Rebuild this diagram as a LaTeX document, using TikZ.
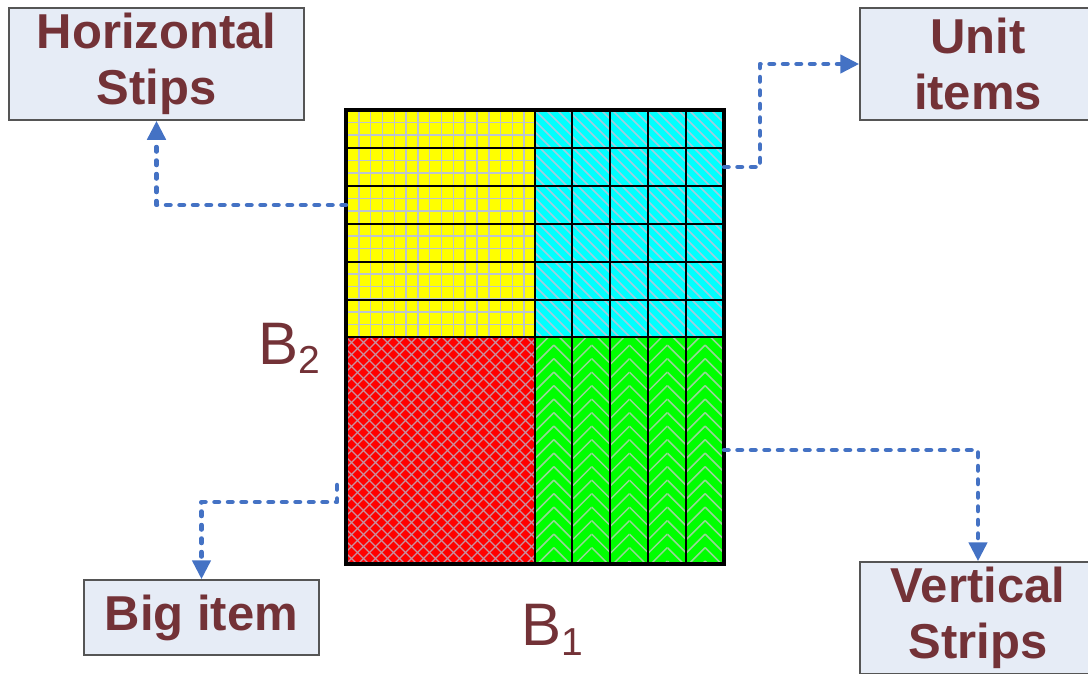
\documentclass[tikz,border=0pt]{standalone}
\usepackage{fontspec}
\setmainfont{Liberation Sans}
\usetikzlibrary{arrows.meta}
\definecolor{txt}{RGB}{115,50,55}
\definecolor{boxfill}{RGB}{230,236,246}
\definecolor{boxline}{RGB}{85,85,85}
\definecolor{connblue}{RGB}{68,114,196}
\definecolor{yelfill}{RGB}{255,255,0}
\definecolor{cyafill}{RGB}{0,255,255}
\definecolor{redfill}{RGB}{255,0,0}
\definecolor{grnfill}{RGB}{0,255,0}
\definecolor{ygridc}{RGB}{188,196,206}
\definecolor{chatchc}{RGB}{160,205,222}
\definecolor{rhatchc}{RGB}{200,145,160}
\definecolor{ghatchc}{RGB}{150,215,150}
\begin{document}
\begin{tikzpicture}[x=1pt,y=-1pt,
  labelbox/.style={draw=boxline, line width=1.5pt, fill=boxfill, text=txt,
    font=\bfseries\fontsize{49}{56}\selectfont, align=center, inner sep=0pt},
  blabel/.style={text=txt, font=\fontsize{60}{60}\selectfont, inner sep=0pt},
  conn/.style={draw=connblue, line width=4.5pt, line cap=round, line join=round,
    dash pattern=on 4.5pt off 9pt, -{Triangle[length=19pt,width=18pt]}},
  hatch/.style={line width=1.5pt},
  stripline/.style={draw=black, line width=1.5pt},
  divider/.style={draw=black, line width=2pt}]
\useasboundingbox (0,0) rectangle (1088,673);

% ---- yellow region (horizontal strips)
\fill[yelfill] (346,110) rectangle (535,337);
\begin{scope}
  \clip (346,110) rectangle (535,337);
  \foreach \i in {0,...,16} \draw[hatch, ygridc] ({347+\i*11.8125},110) -- ++(0,227);
  \foreach \j in {0,...,18} \draw[hatch, ygridc] (346,{110+\j*12.611}) -- ++(189,0);
\end{scope}

% ---- cyan region (unit items)
\fill[cyafill] (535,110) rectangle (724,337);
\begin{scope}
  \clip (535,110) rectangle (724,337);
  \foreach \k in {-21,...,18} \draw[hatch, chatchc] ({535+\k*11},110) -- ++(227,227);
\end{scope}

% ---- red region (big item)
\fill[redfill] (346,337) rectangle (535,564);
\begin{scope}
  \clip (346,337) rectangle (535,564);
  \foreach \k in {-20,...,17} {
    \draw[line width=1.2pt, rhatchc] ({346+\k*12},337) -- ++(227,227);
    \draw[line width=1.2pt, rhatchc] ({346+\k*12},564) -- ++(227,-227);
  }
\end{scope}

% ---- green region (vertical strips)
\fill[grnfill] (535,337) rectangle (724,564);
\foreach \s in {0,...,4} {
  \begin{scope}
    \clip ({535+\s*37.8},337) rectangle ({535+\s*37.8+18.9},564);
    \foreach \m in {0,...,19} \draw[hatch, ghatchc] ({535+\s*37.8},{337+\m*13.5}) -- ++(18.9,-18.9);
  \end{scope}
  \begin{scope}
    \clip ({535+\s*37.8+18.9},337) rectangle ({535+(\s+1)*37.8},564);
    \foreach \m in {0,...,19} \draw[hatch, ghatchc] ({535+\s*37.8+18.9},{337+\m*13.5-18.9}) -- ++(18.9,18.9);
  \end{scope}
}

% ---- strip / grid lines
\foreach \y in {148,186,224,262,300} \draw[stripline] (346,\y) -- (724,\y);
\foreach \x in {572,610,648,686} \draw[stripline] (\x,110) -- (\x,564);
\draw[divider] (346,337) -- (724,337);
\draw[divider] (535,110) -- (535,564);
\draw[black, line width=4pt] (346,110) rectangle (724,564);

% ---- connection points on the bin
\coordinate (hstart) at (346,205);
\coordinate (ustart) at (724,167);
\coordinate (ubend) at (760,167);
\coordinate (ubend2) at (760,64);
\coordinate (bstart) at (337,485);
\coordinate (bbend) at (337,502);
\coordinate (vstart) at (724,450);

% ---- label boxes
\node[labelbox, minimum width=295pt, minimum height=112pt] (hbox) at (156.5,64) {Horizontal\\Stips};
\node[labelbox, minimum width=236pt, minimum height=112pt] (ubox) at (978,64) {Unit\\items};
\node[labelbox, minimum width=235pt, minimum height=75pt] (bbox) at (201.5,617.5) {Big item};
\node[labelbox, minimum width=236pt, minimum height=112pt] (vbox) at (978,618) {Vertical\\Strips};

% ---- B labels
\node[blabel, anchor=base west] (b2) at (258,364) {B\raisebox{-9pt}{\fontsize{39}{39}\selectfont 2}};
\node[blabel, anchor=base west] (b1) at (521,645) {B\raisebox{-10pt}{\fontsize{39}{39}\selectfont 1}};

% ---- connectors
\draw[conn] (hstart) -| (hbox.south);
\draw[conn] (ustart) -- (ubend) -- (ubend2) -- (ubox.west);
\draw[conn] (bstart) -- (bbend) -| (bbox.north);
\draw[conn] (vstart) -| (vbox.north);
\end{tikzpicture}
\end{document}
